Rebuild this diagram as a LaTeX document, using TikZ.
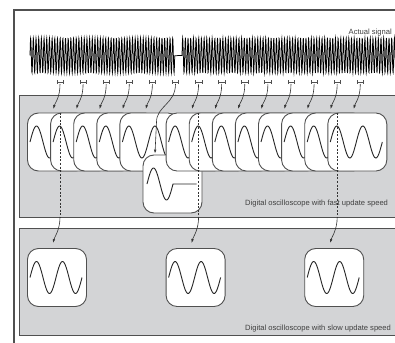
\documentclass[tikz,border=0pt]{standalone}
\usepackage{fontspec}
\setmainfont{Liberation Sans}
\usetikzlibrary{arrows.meta}

\definecolor{panelgray}{HTML}{D3D4D6}
\definecolor{edgegray}{HTML}{505050}
\definecolor{textgray}{HTML}{404040}

\tikzset{
	panel/.style={draw=edgegray, fill=panelgray, line width=1pt},
	screen/.style={draw=edgegray, fill=white, line width=0.9pt, rounded corners=11pt,
		minimum width=59pt, minimum height=58pt, inner sep=0pt},
	wave/.style={black!85, line width=0.9pt},
	grab/.style={black!80, line width=0.6pt, -{Latex[length=4pt,width=2.6pt]}},
	boxtext/.style={font=\fontsize{7.6}{9}\selectfont, text=textgray, inner sep=0pt}
}

\newcommand{\sinewave}[2]{%
	\draw[wave] plot[domain=0:52, samples=61, smooth] ({#1-27+\x}, {#2-16*sin(13.846*\x)});}

\begin{document}
\begin{tikzpicture}[x=1pt, y=-1pt]
	\useasboundingbox (0,0) rectangle (395,342);
	\clip (0,0) rectangle (395,342);

	% outer frame
	\draw[edgegray, line width=1.4pt] (14,350) -- (14,10) -- (400,10);

	% the actual signal, with the glitch
	\draw[line width=0.75pt] plot[domain=30:174.72, samples=700] (\x, {55.5-17.5*sin(360*mod(\x-30,2.68)/2.68)})
		-- (182,55.5)
		-- plot[domain=182:397, samples=1000] (\x, {55.5-17.5*sin(360*mod(\x-182,2.68)/2.68)});
	\node[boxtext, anchor=base east] (sigtext) at (392,35) {Actual signal};

	% acquisition windows
	\foreach \i in {0,...,13} {
		\coordinate (tk\i) at ({60+23.1*\i},84);
		\draw[edgegray, line width=0.6pt, {Bar[width=3.4pt]}-{Bar[width=3.4pt]}] ({56.5+23.1*\i},82) -- ({63.5+23.1*\i},82);
	}

	% panels
	\draw[panel] (19.5,95) rectangle (402,217);
	\draw[panel] (19.5,228) rectangle (402,335);

	% fast update: one screen per window, the glitch one drops below
	\foreach \i in {0,...,13} {
		\pgfmathsetmacro{\cx}{57+23.1*\i}
		\ifnum\i=5
			\node[screen] (glitch) at (\cx,184) {};
			\draw[wave] plot[domain=0:26, samples=31, smooth] ({\cx-25.5+\x}, {184-16*sin(13.846*\x)}) -- ({\cx+24},184);
		\else
			\node[screen] (scr\i) at (\cx,142) {};
			\sinewave{\cx}{142}
		\fi
	}
	\node[boxtext, anchor=base west] (fasttext) at (245,205.5) {Digital oscilloscope with fast update speed};

	% slow update: only every sixth window
	\foreach \i/\k in {0/0, 1/6, 2/12} {
		\pgfmathsetmacro{\cx}{57+23.1*\k}
		\node[screen] (slow\i) at (\cx,277.5) {};
		\sinewave{\cx}{277.5}
		\coordinate (cut\i) at ({60+23.1*\k},217);
	}
	\node[boxtext, anchor=base west] (slowtext) at (245,330) {Digital oscilloscope with slow update speed};

	% arrows from the windows
	\foreach \i in {0,1,2,3,4,6,7,8,9,10,11,12,13}
		\draw[grab] (tk\i) .. controls +(0,14) and +(1.5,-6) .. ([xshift=-3.6pt, yshift=3.5pt]scr\i.north);
	\draw[grab] (tk5) .. controls +(0,20) and +(0,-16) .. (156.5,122) -- ([xshift=-17.5pt, yshift=1pt]glitch.north);

	% windows also caught by the slow scope
	\foreach \i/\k in {0/0, 1/6, 2/12} {
		\draw[black!80, line width=0.6pt, dash pattern=on 2pt off 1.6pt] (tk\k |- scr\k.north) -- (cut\i);
		\draw[grab] (cut\i) .. controls +(0,13) and +(1.5,-6) .. ([xshift=-4pt, yshift=5pt]slow\i.north);
	}
\end{tikzpicture}
\end{document}
